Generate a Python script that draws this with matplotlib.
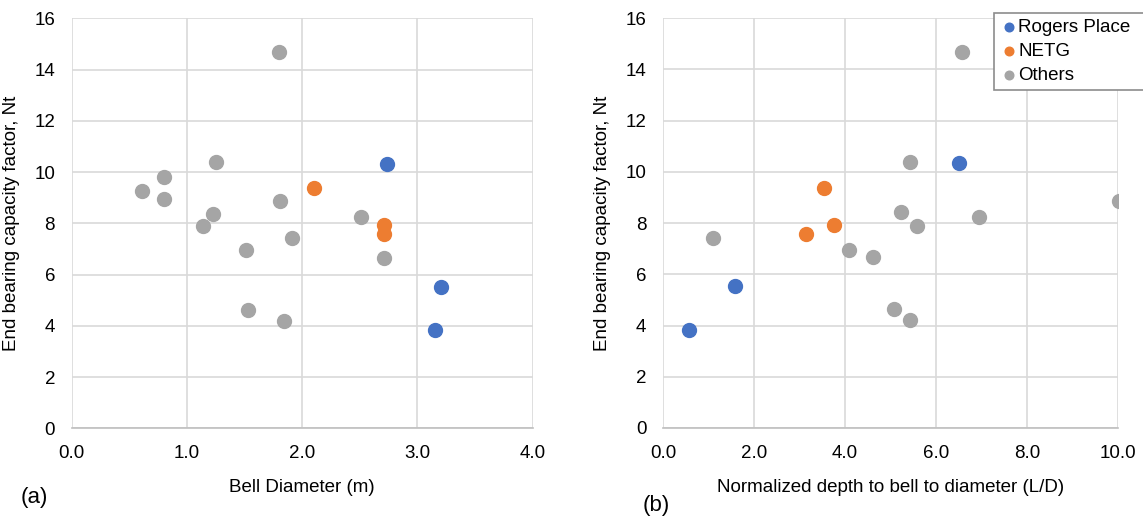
import matplotlib.pyplot as plt
import numpy as np

plt.rcParams['font.family'] = ['Liberation Sans', 'DejaVu Sans']

# panel (a): bell diameter (m) vs Nt
rogers_d = [2.74, 3.20, 3.15]
rogers_nt_a = [10.30, 5.52, 3.84]
netg_d = [2.10, 2.71, 2.71]
netg_nt_a = [9.36, 7.92, 7.57]
others_d = [1.80, 1.25, 0.80, 0.61, 0.80, 1.23, 1.14, 1.81, 1.91, 1.51, 2.51, 2.71, 1.53, 1.84]
others_nt_a = [14.67, 10.38, 9.82, 9.26, 8.95, 8.37, 7.90, 8.86, 7.44, 6.96, 8.24, 6.66, 4.62, 4.19]

# panel (b): normalized depth L/D vs Nt
rogers_ld = [6.51, 1.59, 0.58]
rogers_nt_b = [10.34, 5.53, 3.81]
netg_ld = [3.54, 3.75, 3.15]
netg_nt_b = [9.38, 7.92, 7.56]
others_ld = [6.58, 5.42, 10.02, 5.22, 6.94, 5.58, 1.09, 4.08, 4.62, 5.07, 5.42]
others_nt_b = [14.67, 10.37, 8.84, 8.41, 8.25, 7.90, 7.43, 6.95, 6.69, 4.64, 4.21]

BLUE = '#4472C4'
ORANGE = '#ED7D31'
GRAY = '#A5A5A5'
FS = 13.5
W, H = 1143, 516


def style_axes(ax, xmax, xstep, width_px):
    ax.set_xlim(0, xmax)
    ax.set_ylim(0, 16)
    ticks = np.arange(0, xmax + 0.001, xstep)
    ax.set_xticks(ticks)
    ax.set_xticklabels(['%.1f' % v for v in ticks])
    ax.set_yticks(range(0, 17, 2))
    ax.grid(True, color='#D9D9D9', linewidth=1.2)
    ax.set_axisbelow(True)
    for s in ['top', 'right', 'left']:
        ax.spines[s].set_visible(False)
    ax.spines['bottom'].set_color('#BFBFBF')
    ax.spines['bottom'].set_linewidth(1.2)
    ax.tick_params(length=0, labelsize=FS, pad=12)
    ax.set_ylabel('End bearing capacity factor, Nt', fontsize=FS)
    ax.yaxis.set_label_coords(-52 / width_px, 0.5)


fig = plt.figure(figsize=(W / 100, H / 100), dpi=100)
ax1 = fig.add_axes([71.7 / W, 1 - 428.3 / H, 461 / W, 410 / H])
ax2 = fig.add_axes([663 / W, 1 - 428 / H, 455 / W, 410 / H])

ax1.scatter(others_d, others_nt_a, s=100, color=GRAY, zorder=3)
ax1.scatter(netg_d, netg_nt_a, s=100, color=ORANGE, zorder=3)
ax1.scatter(rogers_d, rogers_nt_a, s=100, color=BLUE, zorder=3)
style_axes(ax1, 4.0, 1.0, 461)
ax1.set_xlabel('Bell Diameter (m)', fontsize=FS)
ax1.xaxis.set_label_coords(0.5, -51 / 410)

h_r = ax2.scatter(rogers_ld, rogers_nt_b, s=100, color=BLUE, zorder=3)
h_n = ax2.scatter(netg_ld, netg_nt_b, s=100, color=ORANGE, zorder=3)
h_o = ax2.scatter(others_ld, others_nt_b, s=100, color=GRAY, zorder=3)
style_axes(ax2, 10.0, 2.0, 455)
ax2.set_xlabel('Normalized depth to bell to diameter (L/D)', fontsize=FS)
ax2.xaxis.set_label_coords(0.5, -51 / 410)

# legend box runs off the right edge, as in the original
leg = fig.legend([h_r, h_n, h_o], ['Rogers Place', 'NETG', 'Others'],
                 loc='upper left', mode='expand',
                 bbox_to_anchor=(994 / W, 1 - 13 / H, 160 / W, 0),
                 fontsize=FS, markerscale=0.62, handletextpad=0.0,
                 handlelength=1.0, borderpad=0.3, labelspacing=0.38,
                 borderaxespad=0, fancybox=False, framealpha=1,
                 edgecolor='#8C8C8C')
leg.get_frame().set_linewidth(1.2)

fig.text(21 / W, 1 - 497 / H, '(a)', fontsize=16, va='center')
fig.text(643 / W, 1 - 505 / H, '(b)', fontsize=16, va='center')

fig.savefig('out.png', dpi=100)
